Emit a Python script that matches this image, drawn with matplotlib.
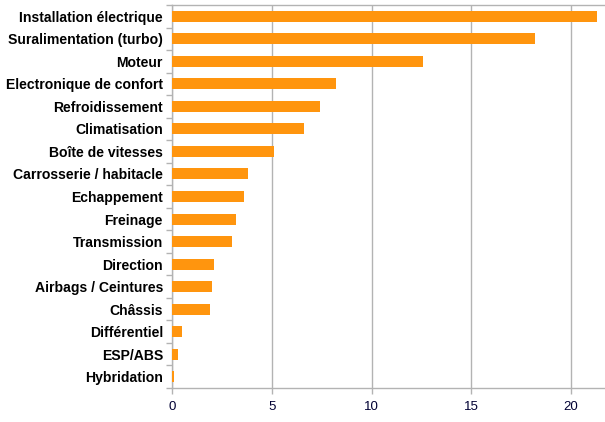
import matplotlib
matplotlib.use("Agg")
import matplotlib.pyplot as plt
import numpy as np

categories = [
    "Installation électrique", "Suralimentation (turbo)", "Moteur",
    "Electronique de confort", "Refroidissement", "Climatisation",
    "Boîte de vitesses", "Carrosserie / habitacle", "Echappement",
    "Freinage", "Transmission", "Direction", "Airbags / Ceintures",
    "Châssis", "Différentiel", "ESP/ABS", "Hybridation",
]
values = [21.3, 18.2, 12.6, 8.2, 7.4, 6.6, 5.1, 3.8, 3.6, 3.2, 3.0,
          2.1, 2.0, 1.9, 0.5, 0.3, 0.1]
xticks = [0, 5, 10, 15, 20]

ORANGE = "#ff950e"
GRID = "#b3b3b3"

plt.rcParams["font.family"] = ["Liberation Sans", "DejaVu Sans"]

fig = plt.figure(figsize=(6.05, 4.22), dpi=100)
ax = fig.add_axes([172 / 605, 1 - 388 / 422, 1 - 172 / 605, 383 / 422])

n = len(categories)
y = np.arange(n)
ax.barh(y, values, height=0.49, color=ORANGE, zorder=3)
ax.set_ylim(n - 0.5, -0.5)
ax.set_xlim(0, 21.7)

ax.set_yticks(y)
ax.set_yticklabels(categories, fontweight="bold", fontsize=10.1, color="black")
ax.set_yticks(np.arange(n + 1) - 0.5, minor=True)
ax.tick_params(axis="y", which="major", length=0, pad=6.5)
ax.tick_params(axis="y", which="minor", length=4, color=GRID, width=1)

ax.set_xticks(xticks)
ax.set_xticklabels([str(t) for t in xticks], fontsize=9.5, color="#000033")
ax.tick_params(axis="x", length=4, color=GRID, width=1, pad=5)

ax.grid(axis="x", color=GRID, lw=1, zorder=0)
for side in ["left", "bottom", "top"]:
    ax.spines[side].set_color(GRID)
    ax.spines[side].set_linewidth(1)
ax.spines["right"].set_visible(False)

fig.savefig("out.png", dpi=100)
